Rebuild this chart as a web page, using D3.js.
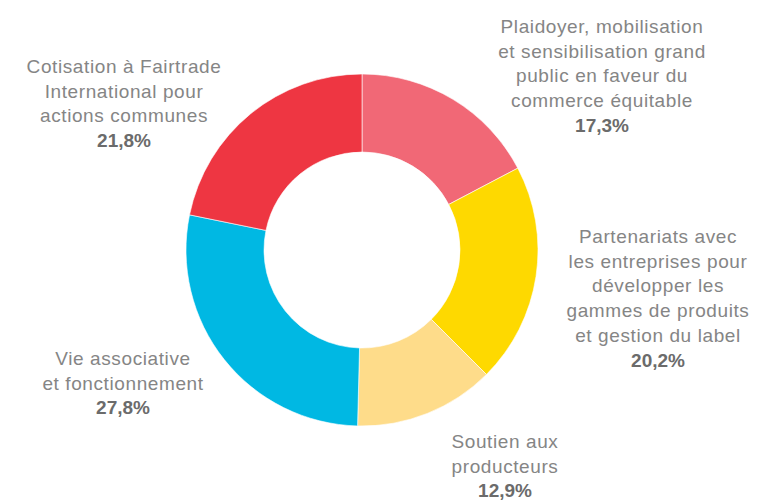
<!DOCTYPE html>
<html>
<head>
<meta charset="utf-8">
<script src="https://cdn.jsdelivr.net/npm/d3@7"></script>
<style>
  html, body { margin: 0; padding: 0; background: #fff; }
  svg { display: block; }
  .lbl { font-family: "Liberation Sans", Arial, sans-serif; font-size: 19px; fill: #858585; letter-spacing: 0.6px; }
  .pct { font-weight: bold; fill: #6b6b6b; letter-spacing: 0; }
</style>
</head>
<body>
<svg id="chart" width="760" height="500"></svg>
<script>
// parts du budget (sens horaire depuis midi)
const categories = [
  "Plaidoyer, mobilisation et sensibilisation grand public en faveur du commerce équitable",
  "Partenariats avec les entreprises pour développer les gammes de produits et gestion du label",
  "Soutien aux producteurs",
  "Vie associative et fonctionnement",
  "Cotisation à Fairtrade International pour actions communes"
];
const values = [17.3, 20.2, 12.9, 27.8, 21.8];
const labelLines = [
  ["Plaidoyer, mobilisation", "et sensibilisation grand", "public en faveur du", "commerce équitable"],
  ["Partenariats avec", "les entreprises pour", "développer les", "gammes de produits", "et gestion du label"],
  ["Soutien aux", "producteurs"],
  ["Vie associative", "et fonctionnement"],
  ["Cotisation à Fairtrade", "International pour", "actions communes"]
];
const colors = ["#f16876", "#fed900", "#fedc8a", "#00b8e3", "#ee3642"];

// position du premier texte de chaque étiquette (x centre, y ligne de base)
const labelPos = [[602, 33], [658, 243], [505, 448], [123, 365], [124, 73]];
const lineH = 24.7;

const svg = d3.select('#chart');
const cx = 362, cy = 250;

const pie = d3.pie().sort(null).value(d => d);
const arc = d3.arc().innerRadius(98).outerRadius(176);

const g = svg.append('g').attr('transform', `translate(${cx},${cy})`);
g.selectAll('path')
  .data(pie(values))
  .enter()
  .append('path')
  .attr('d', arc)
  .attr('fill', (d, i) => colors[i])
  .attr('stroke', '#fff')
  .attr('stroke-width', 0.6);

const fmt = v => d3.format('.1f')(v).replace('.', ',') + '%';

const labels = svg.selectAll('text.lbl')
  .data(values)
  .enter()
  .append('text')
  .attr('class', 'lbl')
  .attr('text-anchor', 'middle');

labels.each(function(v, i) {
  const t = d3.select(this);
  const [x, y] = labelPos[i];
  labelLines[i].forEach((line, j) => {
    t.append('tspan').attr('x', x).attr('y', y + j * lineH).text(line);
  });
  t.append('tspan')
    .attr('class', 'pct')
    .attr('x', x)
    .attr('y', y + labelLines[i].length * lineH)
    .text(fmt(v));
});
</script>
</body>
</html>
